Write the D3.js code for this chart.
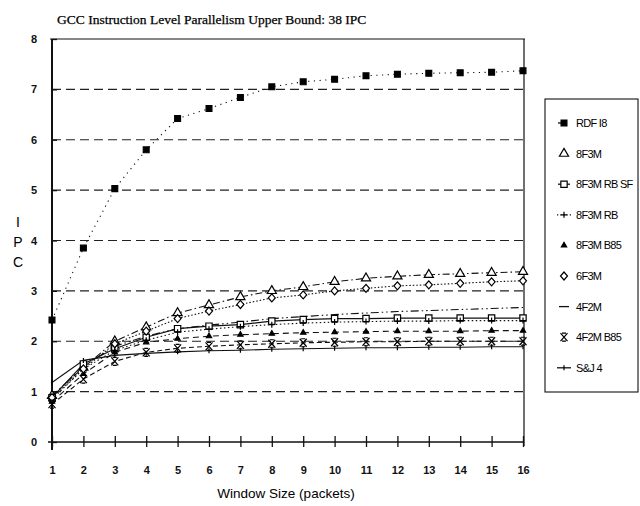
<!DOCTYPE html>
<html>
<head>
<meta charset="utf-8">
<script src="https://cdn.jsdelivr.net/npm/d3@7"></script>
<style>
  body { margin: 0; background: #fff; }
  svg { display: block; }
  .axis path, .axis line { stroke: #111; }
  .axis text { font-family: "Liberation Sans", Arial, sans-serif; font-size: 11px; fill: #111; }
</style>
</head>
<body>
<div id="chart"></div>
<script>
// window sizes (packets) on the x axis
var windowSizes = [1, 2, 3, 4, 5, 6, 7, 8, 9, 10, 11, 12, 13, 14, 15, 16];
var yTicks = [0, 1, 2, 3, 4, 5, 6, 7, 8];

// IPC per configuration
var rdfI8    = [2.42, 3.85, 5.03, 5.8, 6.42, 6.62, 6.84, 7.05, 7.15, 7.2, 7.27, 7.3, 7.32, 7.33, 7.34, 7.37];
var f3m8     = [0.92, 1.48, 2.0, 2.28, 2.56, 2.72, 2.88, 3.0, 3.08, 3.18, 3.25, 3.29, 3.32, 3.34, 3.36, 3.38];
var f3m8RbSf = [0.88, 1.55, 1.85, 2.08, 2.25, 2.3, 2.33, 2.4, 2.43, 2.45, 2.45, 2.46, 2.46, 2.46, 2.46, 2.46];
var f3m8Rb   = [0.85, 1.45, 1.82, 2.02, 2.18, 2.24, 2.29, 2.33, 2.36, 2.38, 2.39, 2.4, 2.4, 2.41, 2.41, 2.41];
var f3m8B85  = [0.8, 1.35, 1.78, 1.98, 2.05, 2.1, 2.13, 2.15, 2.17, 2.18, 2.19, 2.2, 2.2, 2.2, 2.21, 2.21];
var f3m6     = [0.88, 1.45, 1.95, 2.2, 2.45, 2.6, 2.73, 2.86, 2.92, 3.0, 3.05, 3.1, 3.12, 3.15, 3.18, 3.2];
var f2m4     = [0.9, 1.5, 1.9, 2.1, 2.25, 2.32, 2.38, 2.45, 2.49, 2.53, 2.56, 2.59, 2.61, 2.63, 2.65, 2.67];
var f2m4B85  = [0.75, 1.25, 1.6, 1.78, 1.86, 1.9, 1.93, 1.95, 1.97, 1.98, 1.99, 1.99, 2.0, 2.0, 2.0, 2.0];
var sj4      = [1.18, 1.62, 1.72, 1.76, 1.79, 1.81, 1.82, 1.84, 1.85, 1.86, 1.87, 1.87, 1.88, 1.88, 1.89, 1.89];

var seriesNames = ["RDF I8", "8F3M", "8F3M RB SF", "8F3M RB", "8F3M B85", "6F3M", "4F2M", "4F2M B85", "S&J 4"];
var seriesValues = [rdfI8, f3m8, f3m8RbSf, f3m8Rb, f3m8B85, f3m6, f2m4, f2m4B85, sj4];

// line dash + marker per series, and what the legend swatch shows
var styles = [
  {dash: "1.2,4.5", marker: "fsquare", key: "M13,0H16"},
  {dash: "7,3,1.5,3", marker: "triangle", key: null},
  {dash: null, marker: "square", key: "M13,0H25"},
  {dash: "1.5,2.5", marker: "plus", key: "M12,0H26", keyDash: "1.2,2"},
  {dash: "6,4", marker: "ftriangle", key: null},
  {dash: "1.5,2", marker: "diamond", key: null},
  {dash: "8,3,1.5,3,1.5,3", marker: "none", key: "M14,0H24"},
  {dash: "5,3", marker: "x", key: null},
  {dash: null, marker: "tick", key: "M12,0H26"}
];

var width = 640, height = 506;
var x = d3.scaleLinear().domain([1, 16]).range([52, 523]);
var y = d3.scaleLinear().domain([0, 8]).range([442, 39]);

var svg = d3.select("#chart").append("svg")
    .attr("width", width)
    .attr("height", height);

svg.append("rect").attr("width", width).attr("height", height).attr("fill", "#fff");

svg.append("text")
    .attr("x", 57).attr("y", 24)
    .style("font-family", "'Liberation Serif', 'Times New Roman', serif")
    .style("font-size", "13.5px")
    .attr("fill", "#000")
    .attr("stroke", "#000").attr("stroke-width", 0.25)
    .text("GCC Instruction Level Parallelism Upper Bound: 38 IPC");

// dashed gridlines
svg.append("g").selectAll("line")
    .data(yTicks.filter(function(d) { return d > 0 && d < 8; }))
  .enter().append("line")
    .attr("x1", x(1)).attr("x2", x(16))
    .attr("y1", function(d) { return y(d); })
    .attr("y2", function(d) { return y(d); })
    .attr("stroke", "#222")
    .attr("stroke-width", 1.2)
    .attr("stroke-dasharray", "9,5");

// frame: top and right
svg.append("line")
    .attr("x1", x(1) - 2).attr("x2", x(16) + 2)
    .attr("y1", y(8)).attr("y2", y(8))
    .attr("stroke", "#111").attr("stroke-width", 1.2);
svg.append("line")
    .attr("x1", x(16) + 1).attr("x2", x(16) + 1)
    .attr("y1", y(8)).attr("y2", y(0) + 4)
    .attr("stroke", "#111").attr("stroke-width", 1.2);

var xAxis = svg.append("g")
    .attr("class", "axis")
    .attr("transform", "translate(0," + y(0) + ")")
    .call(d3.axisBottom(x).tickValues(windowSizes).tickSize(5).tickPadding(19).tickFormat(d3.format("d")));
xAxis.selectAll(".tick line").attr("y1", -6).attr("stroke-width", 1.3);
xAxis.select(".domain").attr("d", "M" + (x(1) - 4) + ",0H" + x(16)).attr("stroke-width", 1.3);
xAxis.selectAll("text").style("font-weight", "bold").style("font-size", "11px");

var yAxis = svg.append("g")
    .attr("class", "axis")
    .attr("transform", "translate(" + x(1) + ",0)")
    .call(d3.axisLeft(y).tickValues(yTicks).tickSize(6).tickPadding(9).tickFormat(d3.format("d")));
yAxis.selectAll(".tick line").attr("x2", 5).attr("stroke-width", 1.3);
yAxis.select(".domain").attr("d", "M0," + y(8) + "V" + (y(0) + 8)).attr("stroke-width", 2);
yAxis.selectAll("text").style("font-weight", "bold").style("font-size", "11px");

// axis titles
svg.append("g").selectAll("text")
    .data(["I", "P", "C"])
  .enter().append("text")
    .attr("x", 18)
    .attr("y", function(d, i) { return 227 + i * 20; })
    .attr("text-anchor", "middle")
    .style("font-family", "'Liberation Sans', Arial, sans-serif")
    .style("font-size", "14px")
    .text(function(d) { return d; });

svg.append("text")
    .attr("x", 286).attr("y", 498)
    .attr("text-anchor", "middle")
    .style("font-family", "'Liberation Sans', Arial, sans-serif")
    .style("font-size", "13.5px")
    .text("Window Size (packets)");

function markerPath(type) {
  var s = d3.symbol();
  if (type == "fsquare") return s.type(d3.symbolSquare).size(34)();
  if (type == "square") return s.type(d3.symbolSquare).size(40)();
  if (type == "triangle") return s.type(d3.symbolTriangle).size(36)();
  if (type == "ftriangle") return s.type(d3.symbolTriangle).size(12)();
  if (type == "diamond") return "M0,-4L3.5,0L0,4L-3.5,0Z";
  if (type == "plus") return "M-3,0H3M0,-3V3";
  if (type == "x") return "M-3.5,-4L3.5,4M3.5,-4L-3.5,4M-2,-4H2M-2,4H2";
  if (type == "tick") return "M0,-2.5V2.5";
  return null;
}
function markerFill(type) {
  return (type == "fsquare" || type == "ftriangle") ? "#000" : "#fff";
}

var line = d3.line()
    .x(function(d, i) { return x(windowSizes[i]); })
    .y(function(d) { return y(d); });

var plot = svg.append("g").attr("class", "chart-group");

seriesValues.forEach(function(vals, k) {
  var st = styles[k];
  plot.append("path")
      .datum(vals)
      .attr("d", line)
      .attr("fill", "none")
      .attr("stroke", "#111")
      .attr("stroke-width", 1.1)
      .attr("stroke-dasharray", st.dash);
});

seriesValues.forEach(function(vals, k) {
  var st = styles[k];
  if (st.marker == "none") return;
  plot.append("g").selectAll("path")
      .data(vals)
    .enter().append("path")
      .attr("transform", function(d, i) { return "translate(" + x(windowSizes[i]) + "," + y(d) + ")"; })
      .attr("d", markerPath(st.marker))
      .attr("fill", markerFill(st.marker))
      .attr("stroke", "#000")
      .attr("stroke-width", 1.2);
});

// legend
var legend = svg.append("g").attr("transform", "translate(545,99)");
legend.append("rect")
    .attr("width", 93).attr("height", 293)
    .attr("fill", "#fff").attr("stroke", "#111").attr("stroke-width", 1.1);

var item = legend.selectAll(".item")
    .data(seriesNames)
  .enter().append("g")
    .attr("class", "item")
    .attr("transform", function(d, i) { return "translate(0," + (24 + i * 30.6) + ")"; });

item.filter(function(d, i) { return styles[i].key; })
  .append("path")
    .attr("d", function(d) { return styles[seriesNames.indexOf(d)].key; })
    .attr("stroke", "#111")
    .attr("stroke-width", 1.3)
    .attr("stroke-dasharray", function(d) { return styles[seriesNames.indexOf(d)].keyDash || null; });

item.append("path")
    .attr("transform", "translate(19,0)")
    .attr("d", function(d, i) { return markerPath(styles[i].marker); })
    .attr("fill", function(d, i) { return markerFill(styles[i].marker); })
    .attr("stroke", "#000")
    .attr("stroke-width", 1.2);

item.append("text")
    .attr("x", 31)
    .attr("dy", "0.36em")
    .style("font-family", "'Liberation Sans', Arial, sans-serif")
    .style("font-size", "11px")
    .style("letter-spacing", "-0.7px")
    .text(function(d) { return d; });
</script>
</body>
</html>
